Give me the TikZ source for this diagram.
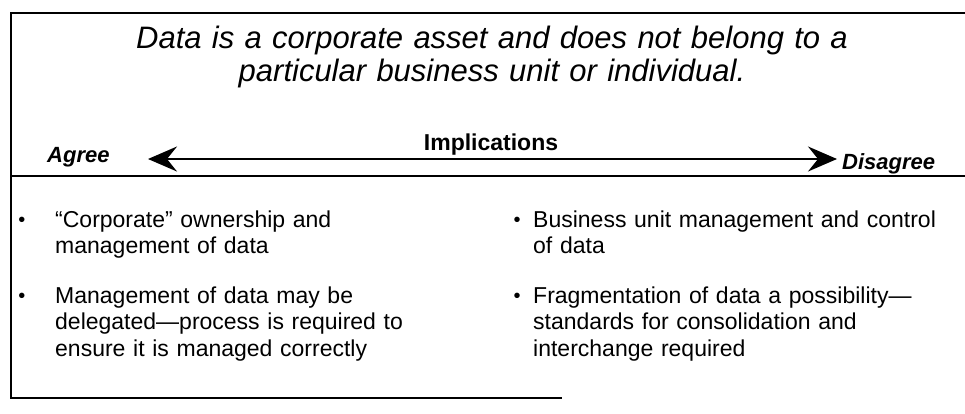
\documentclass[tikz,border=0pt]{standalone}
\usepackage{fontspec}
\setmainfont{Liberation Sans}
\usetikzlibrary{arrows.meta}
\tikzset{
	framerule/.style={
			line width=2.6pt,
			line cap=butt
		},
	scalearrow/.style={
			line width=2.2pt,
			{Stealth[length=29pt,width=25pt,inset=10pt]}-{Stealth[length=29pt,width=25pt,inset=10pt]}
		},
	claimtext/.style={
			font=\fontsize{31}{33}\selectfont\itshape,
			align=center,
			text width=850pt,
			inner sep=0pt,
			anchor=base
		},
	endlabel/.style={
			font=\fontsize{22}{26}\selectfont\bfseries\itshape,
			inner sep=0pt,
			anchor=base west
		},
	itemtext/.style={
			font=\fontsize{23}{26.5}\selectfont,
			align=left,
			text width=420pt,
			inner sep=0pt,
			anchor=base west
		},
	itemdot/.style={
			font=\fontsize{20}{22}\selectfont,
			inner sep=0pt,
			anchor=base
		}
}

\begin{document}
\begin{tikzpicture}[x=1pt, y=-1pt]
  \useasboundingbox (0,0) rectangle (965,413);

  % frame
  \draw[framerule] (965,13) -- (11,13) -- (11,398) -- (562,398);
  \draw[framerule] (11,176) -- (965,176);

  % principle
  \node[claimtext] (claim) at (492,48) {Data is a corporate asset and does not belong to a\\particular business unit or individual.};

  % implications scale
  \node[font=\fontsize{23}{26}\selectfont\bfseries, inner sep=0pt, anchor=base] (impl) at (491,150) {Implications};
  \node[endlabel] (agree) at (47,162) {Agree};
  \node[endlabel] (disagree) at (842,169) {Disagree};
  \coordinate (agreetip) at (148,159);
  \coordinate (disagreetip) at (837,159);
  \draw[scalearrow] (agreetip) -- (disagreetip);

  % agree side
  \node[itemdot] (ad1) at (22,226) {•};
  \node[itemdot] (ad2) at (22,302) {•};
  \node[itemtext] (a1) at (55,227) {“Corporate” ownership and\\management of data};
  \node[itemtext] (a2) at (55,303) {Management of data may be\\delegated—process is required to\\ensure it is managed correctly};

  % disagree side
  \node[itemdot] (dd1) at (517,226) {•};
  \node[itemdot] (dd2) at (517,302) {•};
  \node[itemtext] (d1) at (533,227) {Business unit management and control\\of data};
  \node[itemtext] (d2) at (533,303) {Fragmentation of data a possibility—\\standards for consolidation and\\interchange required};

\end{tikzpicture}
\end{document}
